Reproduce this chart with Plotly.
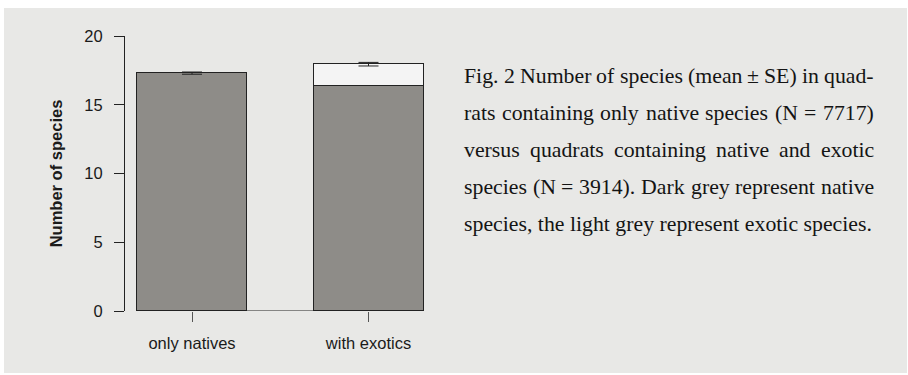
import glob
import plotly.graph_objects as go

# Mean species richness per quadrat group
categories = ["only natives", "with exotics"]
native_mean = [17.3, 16.37]
exotic_mean = [None, 1.58]
total_mean = [17.3, 17.95]
total_se = [0.08, 0.13]
y_ticks = [0, 5, 10, 15, 20]

caption_lines = [
    "Fig. 2 Number of species (mean ± SE) in quad-",
    "rats containing only native species (N = 7717)",
    "versus quadrats containing native and exotic",
    "species (N = 3914). Dark grey represent native",
    "species, the light grey represent exotic species.",
]

W, H = 908, 375
L, R, T, B = 125, 468, 36, 64
PW, PH = W - L - R, H - T - B

xpos = list(range(len(categories)))
bar_w = 0.623
x_range = [-0.3796, 1.405]

CAP_FONT = "Liberation Serif"
CAP_FILE = "LiberationSerif-Regular.ttf"
CAP_SIZE = 21.8
CAP_LEFT, CAP_RIGHT = 463, 873
baselines = [83, 120, 157, 194, 231]

fig = go.Figure()
fig.add_trace(go.Bar(
    x=xpos, y=native_mean, width=bar_w,
    marker=dict(color="#8e8c88", line=dict(color="#222222", width=1)),
    showlegend=False, hoverinfo="skip",
))
fig.add_trace(go.Bar(
    x=xpos, y=exotic_mean, width=bar_w,
    marker=dict(color="#f4f4f4", line=dict(color="#222222", width=1)),
    showlegend=False, hoverinfo="skip",
))
fig.add_trace(go.Scatter(
    x=xpos, y=total_mean, mode="markers",
    marker=dict(opacity=0, size=1),
    error_y=dict(type="data", array=total_se, visible=True,
                 color="#222222", thickness=1, width=10),
    showlegend=False, hoverinfo="skip",
))


def px_x(p):
    return (p - L) / PW


def px_y(p):
    return (H - B - p) / PH


shapes = [
    # grey panel behind the figure
    dict(type="rect", xref="paper", yref="paper",
         x0=px_x(4), x1=px_x(907), y0=px_y(373), y1=px_y(8),
         fillcolor="#e8e8e6", line=dict(width=0), layer="below"),
    # baseline spanning the bars
    dict(type="line", xref="x", yref="y",
         x0=xpos[0] - bar_w / 2, x1=xpos[-1] + bar_w / 2, y0=0, y1=0,
         line=dict(color="#222222", width=1)),
]

# word widths for a justified caption, when font metrics are available
measure = None
try:
    from PIL import ImageFont
    paths = glob.glob("/usr/share/fonts/**/" + CAP_FILE, recursive=True)
    if paths:
        _f = ImageFont.truetype(paths[0], CAP_SIZE)
        measure = _f.getlength
except Exception:
    measure = None

cap_font = dict(family=CAP_FONT, size=CAP_SIZE, color="#141414")
annotations = []
for i, (line, base) in enumerate(zip(caption_lines, baselines)):
    y = px_y(base + 6)
    last = i == len(caption_lines) - 1
    if measure is None or last:
        annotations.append(dict(
            text=line, xref="paper", yref="paper", x=px_x(CAP_LEFT), y=y,
            xanchor="left", yanchor="bottom", showarrow=False, font=cap_font,
            borderpad=0))
        continue
    words = line.split(" ")
    widths = [measure(w) for w in words]
    gap = (CAP_RIGHT - CAP_LEFT - sum(widths)) / (len(words) - 1)
    xw = CAP_LEFT
    for w, wd in zip(words, widths):
        annotations.append(dict(
            text=w, xref="paper", yref="paper", x=px_x(xw), y=y,
            xanchor="left", yanchor="bottom", showarrow=False, font=cap_font,
            borderpad=0))
        xw += wd + gap

fig.update_layout(
    width=W, height=H,
    margin=dict(l=L, r=R, t=T, b=B, pad=0),
    paper_bgcolor="white", plot_bgcolor="rgba(0,0,0,0)",
    barmode="stack", bargap=0,
    shapes=shapes, annotations=annotations,
    font=dict(family="Liberation Sans", size=16.5, color="#1a1a1a"),
    xaxis=dict(
        range=x_range, tickmode="array", tickvals=xpos, ticktext=categories,
        showline=False, showgrid=False, zeroline=False,
        ticks="outside", ticklen=10, tickcolor="#555555", tickwidth=1,
        ticklabelstandoff=7, tickfont=dict(size=16.5),
    ),
    yaxis=dict(
        range=[0, 20], tickmode="array", tickvals=y_ticks,
        showline=True, linecolor="#222222", linewidth=1,
        showgrid=False, zeroline=False,
        ticks="outside", ticklen=10, tickcolor="#222222", tickwidth=1,
        ticklabelstandoff=8, tickfont=dict(size=16.5),
        title=dict(text="<b>Number of species</b>", standoff=17,
                   font=dict(size=16.5)),
    ),
)

fig.write_html("out.html")
